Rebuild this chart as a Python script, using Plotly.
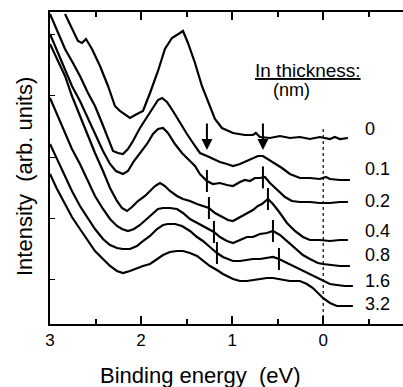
import numpy as np
import plotly.graph_objects as go

# ---------------- data ----------------
thickness_labels = ["0", "0.1", "0.2", "0.4", "0.8", "1.6", "3.2"]

e_0 = [2.835, 2.748, 2.693, 2.649, 2.605, 2.539, 2.451, 2.363, 2.287, 2.232, 2.122, 2.045, 1.979, 1.902,
       1.814, 1.738, 1.661, 1.573, 1.54, 1.485, 1.408, 1.332, 1.266, 1.189, 1.112, 0.991, 0.86, 0.772,
       0.739, 0.695, 0.585, 0.475, 0.366, 0.256, 0.146, 0.037, -0.074, -0.128, -0.183, -0.271]
i_0 = [310, 293, 283, 281, 285, 275, 258, 238, 218, 213, 206, 210, 213, 231,
       253, 275, 286, 291, 293, 281, 261, 238, 223, 205, 196, 191, 189, 189,
       191, 187, 186, 188, 186, 187, 185, 187, 185, 187, 185, 186]

e_01 = [3.0, 2.923, 2.835, 2.748, 2.671, 2.583, 2.506, 2.429, 2.363, 2.308, 2.254, 2.199, 2.144, 2.089,
        2.012, 1.935, 1.869, 1.814, 1.77, 1.716, 1.65, 1.573, 1.496, 1.43, 1.354, 1.277, 1.211, 1.134,
        1.057, 0.991, 0.914, 0.838, 0.772, 0.717, 0.662, 0.607, 0.53, 0.453, 0.366, 0.256, 0.146, 0.037,
        -0.029, -0.074, -0.183, -0.293]
i_01 = [310, 293, 275, 261, 248, 231, 218, 201, 185, 173, 171, 170, 175, 183,
        196, 207, 217, 224, 226, 222, 213, 201, 190, 181, 171, 168, 165, 162,
        160, 158, 160, 163, 166, 168, 168, 165, 161, 156, 150, 146, 146, 145,
        147, 145, 144, 144]

e_02 = [3.0, 2.912, 2.835, 2.759, 2.671, 2.583, 2.506, 2.418, 2.341, 2.276, 2.199, 2.144, 2.078, 2.012,
        1.935, 1.869, 1.814, 1.759, 1.705, 1.628, 1.551, 1.485, 1.408, 1.354, 1.277, 1.211, 1.134, 1.057,
        0.991, 0.914, 0.86, 0.805, 0.75, 0.695, 0.64, 0.585, 0.497, 0.42, 0.344, 0.256, 0.146, 0.037,
        -0.074, -0.183, -0.271]
i_02 = [290, 271, 253, 238, 223, 205, 190, 173, 160, 153, 150, 153, 163, 171,
        180, 190, 195, 196, 191, 180, 171, 165, 158, 150, 143, 140, 141, 139,
        138, 142, 144, 143, 146, 146, 147, 141, 133, 127, 123, 122, 122, 121,
        121, 122, 122]

e_04 = [3.0, 2.912, 2.835, 2.759, 2.671, 2.583, 2.506, 2.418, 2.341, 2.265, 2.21, 2.155, 2.1, 2.034,
        1.957, 1.902, 1.847, 1.792, 1.738, 1.683, 1.606, 1.54, 1.463, 1.386, 1.321, 1.255, 1.189, 1.112,
        1.046, 0.991, 0.914, 0.838, 0.772, 0.717, 0.673, 0.607, 0.552, 0.475, 0.398, 0.311, 0.223, 0.146,
        0.037, -0.074, -0.183, -0.271]
i_04 = [280, 263, 248, 228, 208, 188, 171, 153, 136, 123, 116, 113, 117, 123,
        128, 133, 138, 141, 138, 133, 128, 125, 123, 120, 118, 116, 111, 107,
        104, 103, 107, 111, 114, 118, 120, 125, 120, 111, 101, 93, 87, 84,
        84, 83, 84, 84]

e_08 = [3.0, 2.912, 2.835, 2.759, 2.671, 2.583, 2.506, 2.418, 2.341, 2.265, 2.21, 2.144, 2.078, 2.012,
        1.935, 1.869, 1.814, 1.759, 1.683, 1.606, 1.54, 1.463, 1.386, 1.321, 1.255, 1.2, 1.134, 1.057,
        0.991, 0.914, 0.838, 0.772, 0.695, 0.618, 0.552, 0.475, 0.398, 0.311, 0.223, 0.146, 0.059, 0.003,
        -0.074, -0.183, -0.293]
i_08 = [226, 208, 191, 175, 160, 143, 128, 115, 105, 98, 95, 93, 95, 99,
        105, 111, 115, 116, 116, 115, 111, 105, 101, 98, 95, 92, 87, 83,
        81, 84, 87, 87, 90, 91, 93, 89, 83, 76, 69, 65, 61, 60,
        59, 58, 58]

e_16 = [3.0, 2.912, 2.835, 2.759, 2.671, 2.583, 2.506, 2.418, 2.341, 2.265, 2.199, 2.122, 2.045, 1.979,
        1.902, 1.825, 1.759, 1.705, 1.628, 1.551, 1.463, 1.386, 1.321, 1.244, 1.167, 1.101, 0.991, 0.914,
        0.838, 0.772, 0.695, 0.618, 0.552, 0.486, 0.398, 0.311, 0.223, 0.146, 0.069, 0.003, -0.074, -0.15,
        -0.238, -0.326]
i_16 = [180, 163, 148, 133, 118, 105, 95, 85, 79, 76, 75, 75, 78, 83,
        88, 95, 99, 100, 100, 98, 93, 87, 83, 77, 71, 67, 63, 63,
        64, 65, 65, 66, 67, 65, 61, 57, 53, 50, 46, 43, 40, 39,
        38, 38]

e_32 = [3.0, 2.923, 2.835, 2.759, 2.671, 2.583, 2.506, 2.418, 2.341, 2.265, 2.199, 2.122, 2.045, 1.979,
        1.902, 1.825, 1.759, 1.683, 1.606, 1.54, 1.463, 1.386, 1.321, 1.244, 1.167, 1.101, 0.991, 0.914,
        0.838, 0.772, 0.695, 0.618, 0.552, 0.475, 0.366, 0.256, 0.179, 0.113, 0.058, 0.003, -0.074, -0.15,
        -0.238, -0.326]
i_32 = [150, 135, 120, 107, 95, 83, 73, 65, 58, 53, 51, 53, 56, 58,
        60, 65, 69, 72, 73, 73, 71, 68, 63, 58, 54, 50, 45, 43,
        43, 44, 45, 46, 46, 45, 43, 43, 40, 36, 31, 26, 21, 18,
        18, 18]

energies = [e_0, e_01, e_02, e_04, e_08, e_16, e_32]
intensities = [i_0, i_01, i_02, i_04, i_08, i_16, i_32]

# vertical bars marking the two features (eV) on curves 0.2 ... 1.6
marker_curves = [2, 3, 4, 5]
marker_e_high = [1.277, 1.255, 1.20, 1.167]
marker_e_low = [0.662, 0.607, 0.552, 0.486]

# arrows on the 0.1 nm curve (eV)
arrow_e = [1.277, 0.662]

label_y = [195, 155, 123, 93, 69, 43, 20]   # vertical position of thickness labels
fermi_e = 0.0

x_range = [3, -0.876]
y_range = [0, 312]
x_ticks = [3, 2, 1, 0]
x_minor = [2.5, 1.5, 0.5, -0.5]
y_ticks = [45, 106, 167, 229, 290]

FONT = "Liberation Sans, Arial, Helvetica, sans-serif"

# ---------------- figure ----------------
fig = go.Figure()

# Fermi level dotted line
fig.add_trace(go.Scatter(x=[fermi_e, fermi_e], y=[0, 198], mode="lines",
                         line=dict(color="black", width=1.2, dash="dot"),
                         hoverinfo="skip", showlegend=False))

for e, v in zip(energies, intensities):
    fig.add_trace(go.Scatter(x=e, y=v, mode="lines",
                             line=dict(color="black", width=2.2),
                             showlegend=False))

# feature bars
half = 11
bx, by = [], []
for ci, eh, el in zip(marker_curves, marker_e_high, marker_e_low):
    e = np.array(energies[ci])[::-1]
    v = np.array(intensities[ci])[::-1]
    for ee in (eh, el):
        c = float(np.interp(ee, e, v))
        bx += [ee, ee, None]
        by += [c - half, c + half, None]
fig.add_trace(go.Scatter(x=bx, y=by, mode="lines", line=dict(color="black", width=2),
                         showlegend=False, hoverinfo="skip"))

annotations = []
e1 = np.array(energies[1])[::-1]
v1 = np.array(intensities[1])[::-1]
for ae in arrow_e:
    c = float(np.interp(ae, e1, v1))
    annotations.append(dict(x=ae, y=c + 6, ax=ae, ay=c + 34, xref="x", yref="y",
                            axref="x", ayref="y", text="", showarrow=True,
                            arrowhead=2, arrowsize=1.1, arrowwidth=2, arrowcolor="black"))

# thickness labels
for lab, ly in zip(thickness_labels, label_y):
    annotations.append(dict(x=-0.44, y=ly, xref="x", yref="y", text=lab, showarrow=False,
                            xanchor="left", yanchor="middle",
                            font=dict(family=FONT, size=18, color="black")))

annotations.append(dict(x=0.731, y=0.811, xref="paper", yref="paper",
                        text="<u>In thickness:</u>", showarrow=False,
                        xanchor="center", yanchor="middle",
                        font=dict(family=FONT, size=19, color="black")))
annotations.append(dict(x=0.683, y=0.75, xref="paper", yref="paper",
                        text="(nm)", showarrow=False, xanchor="center", yanchor="middle",
                        font=dict(family=FONT, size=18, color="black")))

annotations.append(dict(x=0.425, y=-0.165, xref="paper", yref="paper",
                        text="Binding energy  (eV)", showarrow=False,
                        xanchor="center", yanchor="middle",
                        font=dict(family=FONT, size=22, color="black")))
annotations.append(dict(x=-0.074, y=0.474, xref="paper", yref="paper",
                        text="Intensity  (arb. units)", showarrow=False, textangle=-90,
                        xanchor="center", yanchor="middle",
                        font=dict(family=FONT, size=22, color="black")))

fig.update_layout(
    width=403, height=387,
    margin=dict(l=50, r=0, t=12, b=63),
    paper_bgcolor="white", plot_bgcolor="white",
    font=dict(family=FONT, size=17, color="black"),
    annotations=annotations,
    xaxis=dict(range=x_range, tickvals=x_ticks, ticktext=[str(t) for t in x_ticks],
               ticks="inside", ticklen=8, tickwidth=1.5, tickcolor="black",
               minor=dict(tickvals=x_minor, ticks="inside", ticklen=5, tickwidth=1.5,
                          tickcolor="black"),
               showline=True, linecolor="black", linewidth=1.5, mirror="allticks",
               showgrid=False, zeroline=False,
               tickfont=dict(family=FONT, size=17, color="black")),
    yaxis=dict(range=y_range, tickvals=y_ticks, ticks="inside", ticklen=5, tickwidth=1,
               tickcolor="black", showticklabels=False,
               showline=True, linecolor="black", linewidth=1.5, mirror=False,
               showgrid=False, zeroline=False),
)

fig.write_html("out.html", config={"displayModeBar": False},
               post_script="document.body.style.margin='0';document.body.style.overflow='hidden';")
